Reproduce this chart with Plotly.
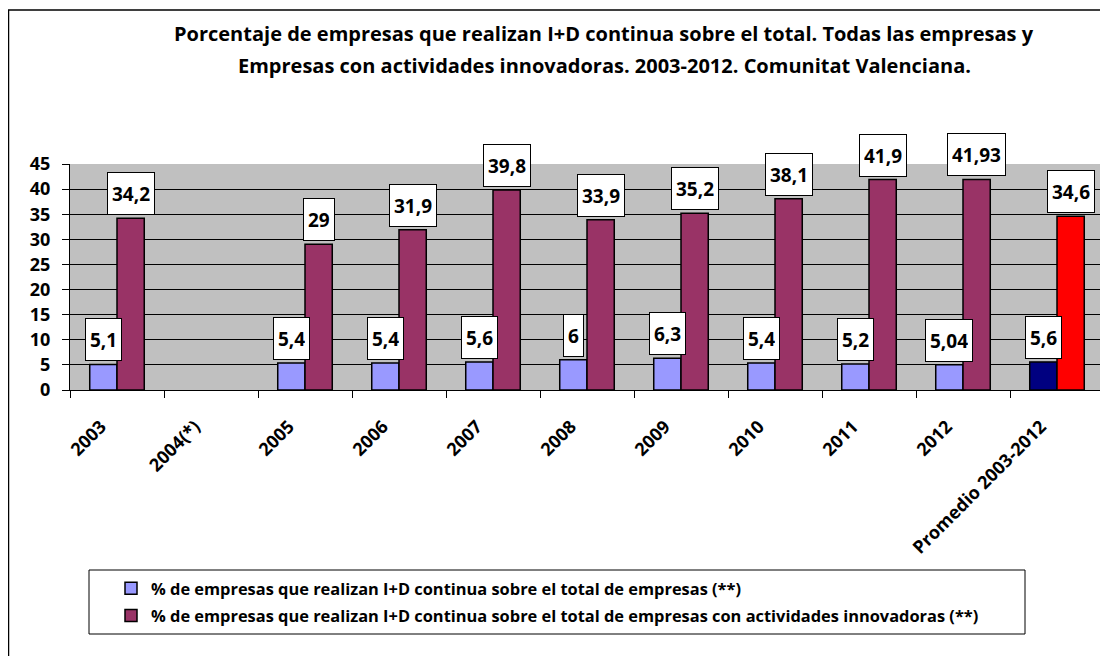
import plotly.graph_objects as go

categories = ["2003", "2004(*)", "2005", "2006", "2007", "2008", "2009", "2010", "2011", "2012", "Promedio 2003-2012"]
total_emp = [5.1, None, 5.4, 5.4, 5.6, 6, 6.3, 5.4, 5.2, 5.04, 5.6]
innov_emp = [34.2, None, 29, 31.9, 39.8, 33.9, 35.2, 38.1, 41.9, 41.93, 34.6]

name1 = "% de empresas que realizan I+D continua sobre el total de empresas (**)"
name2 = "% de empresas que realizan I+D continua sobre el total de empresas con actividades innovadoras (**)"
title1 = "Porcentaje de empresas que realizan I+D continua sobre el total. Todas las empresas y"
title2 = "Empresas con actividades innovadoras. 2003-2012. Comunitat Valenciana."

FONT = "Open Sans"
OFF = 8  # browser body margin
W, H = 1100, 648
# plot area in page pixels: x 70..1104, y 164..390
L, R, T, B = 70 - OFF, 4, 164 - OFF, H - (390 - OFF)
PW = W - L - R
PH = H - T - B


def px_x(p):
    return (p - OFF - L) / PW


def px_y(p):
    return (H - B - (p - OFF)) / PH


colors1 = ["#9999FF"] * (len(categories) - 1) + ["#000080"]
colors2 = ["#993366"] * (len(categories) - 1) + ["#FF0000"]

fig = go.Figure()
fig.add_trace(go.Bar(x=categories, y=total_emp, name=name1, legendgroup="a",
                     marker=dict(color=colors1, line=dict(color="black", width=1.5))))
fig.add_trace(go.Bar(x=categories, y=innov_emp, name=name2, legendgroup="b",
                     marker=dict(color=colors2, line=dict(color="black", width=1.5))))

bargap = 0.42
bar_px = PW / len(categories) * (1 - bargap) / 2

annotations = []
for series, shift in ((total_emp, -bar_px / 2), (innov_emp, bar_px / 2)):
    for i, v in enumerate(series):
        if v is None:
            continue
        annotations.append(dict(
            x=i, y=v, xref="x", yref="y", text=f"{v:g}".replace(".", ","),
            showarrow=False, xshift=shift, yshift=3, yanchor="bottom",
            bgcolor="white", bordercolor="black", borderwidth=1, borderpad=4,
            height=33, font=dict(family=FONT, size=19, color="black", weight="bold")))

for txt, py in ((title1, 33), (title2, 65)):
    annotations.append(dict(
        x=px_x(604), y=px_y(py), xref="paper", yref="paper", text=txt,
        showarrow=False, xanchor="center", yanchor="middle",
        font=dict(family=FONT, size=20, color="black", weight="bold")))

shapes = [
    dict(type="rect", xref="paper", yref="paper",
         x0=px_x(8.5), x1=px_x(1130), y0=px_y(680), y1=px_y(10),
         line=dict(color="black", width=1.5), fillcolor="rgba(0,0,0,0)", layer="below"),
    dict(type="rect", xref="paper", yref="paper",
         x0=px_x(89), x1=px_x(1025), y0=px_y(634), y1=px_y(570),
         line=dict(color="black", width=1), fillcolor="rgba(0,0,0,0)"),
]

fig.update_layout(
    width=W, height=H, autosize=False,
    margin=dict(l=L, r=R, t=T, b=B),
    paper_bgcolor="white", plot_bgcolor="#C0C0C0",
    barmode="group", bargap=bargap, bargroupgap=0,
    font=dict(family=FONT, color="black"),
    showlegend=True,
    legend=dict(x=px_x(111), y=px_y(571), xanchor="left", yanchor="top",
                bgcolor="rgba(0,0,0,0)", borderwidth=0,
                font=dict(family=FONT, size=16.4, color="black", weight="bold"),
                traceorder="grouped", tracegroupgap=3),
    annotations=annotations, shapes=shapes,
)
fig.update_xaxes(type="category", range=[-0.5, len(categories) - 0.5],
                 showline=True, linecolor="black", linewidth=1,
                 ticks="outside", tickson="boundaries", ticklen=7, tickcolor="black",
                 tickangle=-45, ticklabelstandoff=18, ticklabelshift=-16,
                 tickfont=dict(family=FONT, size=18, color="black", weight="bold"),
                 showgrid=False)
fig.update_yaxes(range=[0, 45], dtick=5, showline=True, linecolor="black", linewidth=1,
                 ticks="outside", ticklen=7, tickcolor="black", ticklabelstandoff=8,
                 showgrid=True, gridcolor="black", gridwidth=1,
                 zeroline=False,
                 tickfont=dict(family=FONT, size=18, color="black", weight="bold"))

fig.write_html("out.html")
